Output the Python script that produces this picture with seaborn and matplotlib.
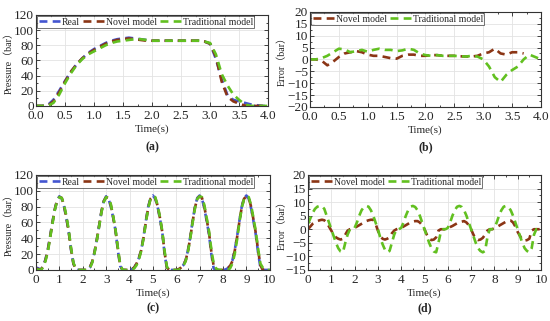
import numpy as np
import seaborn as sns
import matplotlib.pyplot as plt
from matplotlib.ticker import MultipleLocator

# ---- data ----
# (a) step pressure, 0..4 s every 0.1 s
t_a = np.round(np.arange(0, 4.01, 0.1), 1)
real_a = [0, 0, 1, 8, 20, 33, 45, 55, 63, 70, 75, 79, 83, 86, 88, 89, 90, 89, 88, 87,
          86, 86, 86, 86, 86, 86, 86, 86, 86, 85, 82, 62, 35, 14, 8, 6, 4, 2, 1, 0, 0]
novel_a = [0, 0, 0, 6, 18, 32, 45, 55, 63, 69, 74, 78, 82, 85, 87, 88, 89, 88, 87, 86,
           86, 86, 86, 86, 86, 86, 86, 86, 86, 85, 82, 65, 32, 12, 6, 3, 0.5, 0, 0, 0, 0]
trad_a = [0, 0, 0, 4, 15, 30, 43, 54, 62, 68, 72, 76, 80, 83, 85, 86, 87, 88, 88, 87,
          86, 86, 86, 86, 86, 86, 86, 86, 86, 85, 83, 68, 42, 27, 15, 8, 2, 0, 0, 0, 0]

# (b) error for (a)
novel_err_b = [0, 0, -0.5, -2.5, -1, 1, 2.5, 3, 3.5, 3, 2, 1.5, 1.5, 1, 0.5, 0.3, 1.5, 2, 2, 1.5,
               1.5, 1.8, 1.8, 1.5, 1.5, 1.5, 1.3, 1.2, 1.2, 1.5, 2.5, 3, 4.5, 2.5, 2, 3, 3, 2.5,
               np.nan, np.nan, np.nan]
trad_err_b = [0, 0, 0.5, 1.5, 3, 4.5, 4.2, 3, 3.5, 4, 3.2, 4, 4.5, 4, 4, 3.5, 3.8, 4.5, 4, 2.5,
              1.8, 1.5, 1.8, 1.5, 1.5, 1.5, 1.3, 1.2, 1.5, 1.2, 0, -3, -7.5, -9.5, -6.5, -4.5, -3, 0,
              2, 1, 0]

# (c) periodic pressure, 0..10 s every 0.1 s
t_c = np.round(np.arange(0, 10.01, 0.1), 1)
real_c = [3, 2, 0.5, 4, 13, 25, 42, 60, 76, 88, 93, 90, 80, 65, 48, 25, 8, 1, 0, 0,
          0, 0, 0.5, 3, 10, 22, 38, 56, 74, 87, 93, 90, 80, 66, 50, 25, 5, 0, 0, 0,
          0, 1, 3, 8, 15, 25, 42, 62, 80, 91, 94, 90, 80, 65, 48, 20, 2, 0, 0, 0,
          0, 1, 3, 6, 12, 25, 42, 62, 80, 91, 94, 90, 78, 62, 45, 20, 2, 0, 0, 0,
          0, 0.5, 2, 5, 12, 25, 42, 62, 80, 91, 94, 90, 78, 62, 45, 22, 3, 0, 0, 0, 0]
novel_c = [2, 1, 0.5, 4, 12, 24, 41, 59, 76, 88, 92, 91, 81, 66, 48, 26, 8, 1, 0, 0,
           0, 0, 0.5, 3, 10, 22, 38, 56, 74, 87, 92, 91, 82, 67, 50, 27, 6, 0, 0, 0,
           0, 1, 3, 8, 15, 25, 41, 61, 79, 90, 93, 91, 81, 66, 48, 22, 3, 0, 0, 0,
           0, 1, 3, 6, 12, 24, 41, 61, 79, 90, 93, 91, 80, 64, 47, 23, 5, 0, 0, 0,
           0, 0.5, 2, 5, 11, 24, 41, 61, 79, 90, 93, 91, 80, 64, 47, 25, 6, 0, 0, 0, 0]
trad_c = [1, 0.5, 0, 3, 11, 22, 40, 58, 75, 87, 92, 91, 82, 68, 50, 27, 9, 2, 0, 0,
          0, 0, 0, 2, 9, 21, 37, 55, 73, 86, 92, 91, 83, 68, 51, 28, 7, 0, 0, 0,
          0, 0, 2, 6, 13, 24, 40, 60, 78, 90, 93, 92, 82, 67, 49, 24, 4, 0, 0, 0,
          0, 0, 2, 5, 11, 23, 40, 60, 78, 90, 93, 92, 82, 66, 49, 26, 8, 2, 0, 0,
          0, 0, 0, 2, 8, 20, 38, 60, 78, 90, 93, 92, 82, 66, 49, 27, 8, 3, 0, 0, 0]

# (d) error for (c)
novel_err_d = [0, 1, 2, 2.5, 3, 3.3, 3.5, 3.3, 2.5, 1, -0.5, -2, -3, -3.5, -3.8, -3.5, -2, -0.5, 0, 0.3,
               0.5, 1, 1.5, 2, 2.5, 3, 3.3, 3.5, 3.5, 2, -0.5, -2.5, -3.5, -3.8, -3.5, -3, -1.5, -0.5, 0, 0.3,
               0.5, 1, 1.5, 2, 2.5, 2.8, 3, 3, 2.5, 1.5, 0, -2, -3.5, -4, -3.8, -3, -0.5, 0, 0, 0,
               0.3, 0.8, 1.2, 1.7, 2.2, 2.5, 2.8, 3, 2.5, 1.5, 0, -2, -3.5, -4, -3.8, -3.2, -2, -0.5, 0, 0,
               0.3, 0.8, 1.3, 1.8, 2.3, 2.8, 3.2, 3.2, 2.5, 1, -1, -2.5, -3.8, -4.2, -4, -3.5, -0.5, 0, 0, 0, 0]
trad_err_d = [2, 4, 6, 7.5, 8.3, 8.6, 8.5, 7.5, 5, 2.5, 0, -2.5, -5, -7, -8.2, -8.5, -5, -2, 0, 0,
              0.5, 2.5, 5, 7, 8.2, 8.6, 8.3, 7, 5, 2.5, 0, -3, -5.5, -7.5, -8.5, -8, -5, -2, 0, 0,
              0.5, 2.5, 5, 7, 8.3, 8.6, 8.2, 7, 5, 2.5, 0, -2.5, -5, -7, -8.2, -8.5, -5, -1, 0, 0,
              0.5, 2.5, 5, 7, 8.3, 8.6, 8.2, 7, 5, 2.5, 0, -2.5, -5, -7, -8, -8.5, -8, -3, 0, 0,
              0.5, 2.5, 5, 7, 8.3, 8.6, 8.2, 7, 5, 2.5, 0, -2.5, -5, -7, -8, -8.5, -7, -2, 0, 0, 0]

colors = {"Real": "#4455d0", "Novel model": "#8b3515", "Traditional model": "#62c020"}

sns.set_theme(style="ticks")
plt.rcParams["font.family"] = ["Liberation Serif", "Noto Sans CJK SC"]
plt.rcParams["font.size"] = 8
plt.rcParams["axes.linewidth"] = 0.8

fig = plt.figure(figsize=(5.5, 3.21), dpi=100)
ax_a = fig.add_axes([0.0655, 0.670, 0.422, 0.2835])
ax_b = fig.add_axes([0.5636, 0.667, 0.420, 0.296])
ax_c = fig.add_axes([0.0655, 0.159, 0.425, 0.296])
ax_d = fig.add_axes([0.5600, 0.159, 0.4236, 0.296])


def draw(ax, t, series):
    for name, vals in series:
        sns.lineplot(x=t, y=vals, ax=ax, color=colors[name], label=name,
                     linewidth=1.9, linestyle=(0, (3, 2)))


draw(ax_a, t_a, [("Real", real_a), ("Novel model", novel_a), ("Traditional model", trad_a)])
draw(ax_b, t_a, [("Novel model", novel_err_b), ("Traditional model", trad_err_b)])
draw(ax_c, t_c, [("Real", real_c), ("Novel model", novel_c), ("Traditional model", trad_c)])
draw(ax_d, t_c, [("Novel model", novel_err_d), ("Traditional model", trad_err_d)])

# axis, xlim, major/minor x, ylim, major/minor y, ylabel, caption, fmt, ylabel x, xlabel y, caption y
setup = [
    (ax_a, (0, 4), 0.5, 0.25, (0, 120), 20, 10, "Pressure（bar）", "(a)", "%.1f", -0.095, -0.205, -0.45),
    (ax_b, (0, 4), 0.5, 0.25, (-20, 20), 5, 2.5, "Error（bar）", "(b)", "%.1f", -0.10, -0.195, -0.42),
    (ax_c, (0, 10), 1, 0.5, (0, 120), 20, 10, "Pressure（bar）", "(c)", "%d", -0.095, -0.195, -0.40),
    (ax_d, (0, 10), 1, 0.5, (-15, 20), 5, 2.5, "Error（bar）", "(d)", "%d", -0.092, -0.195, -0.40),
]
for ax, xl, xmaj, xmin, yl, ymaj, ymin, ylab, cap, fmt, ylx, xly, capy in setup:
    ax.set_xlim(*xl)
    ax.set_ylim(*yl)
    ax.xaxis.set_major_locator(MultipleLocator(xmaj))
    ax.xaxis.set_minor_locator(MultipleLocator(xmin))
    ax.yaxis.set_major_locator(MultipleLocator(ymaj))
    ax.yaxis.set_minor_locator(MultipleLocator(ymin))
    ax.xaxis.set_major_formatter(plt.FormatStrFormatter(fmt))
    ax.grid(True, which="major", color="#e3e3e3", linewidth=0.6)
    ax.tick_params(which="both", direction="in", top=True, right=True,
                   labelsize=9.5, pad=1.5, length=3, width=0.6)
    ax.tick_params(axis="x", which="major", pad=3)
    ax.tick_params(which="minor", length=1.5)
    for s in ax.spines.values():
        s.set_color("#333333")
    ax.set_xlabel("Time(s)", fontsize=8)
    ax.set_ylabel(ylab, fontsize=7.2)
    ax.xaxis.set_label_coords(0.5, xly)
    ax.yaxis.set_label_coords(ylx, 0.5)
    ax.text(0.5, capy, cap, transform=ax.transAxes, ha="center", va="center",
            fontsize=8.5, fontweight="bold")
    leg = ax.legend(loc="upper left", ncol=3, fontsize=7, frameon=True,
                    handlelength=2.2, handletextpad=0.15, columnspacing=0.3,
                    borderpad=0.15, borderaxespad=0.15, fancybox=False)
    leg.get_frame().set_edgecolor("#333333")
    leg.get_frame().set_linewidth(0.6)

fig.savefig("out.png", dpi=100)
